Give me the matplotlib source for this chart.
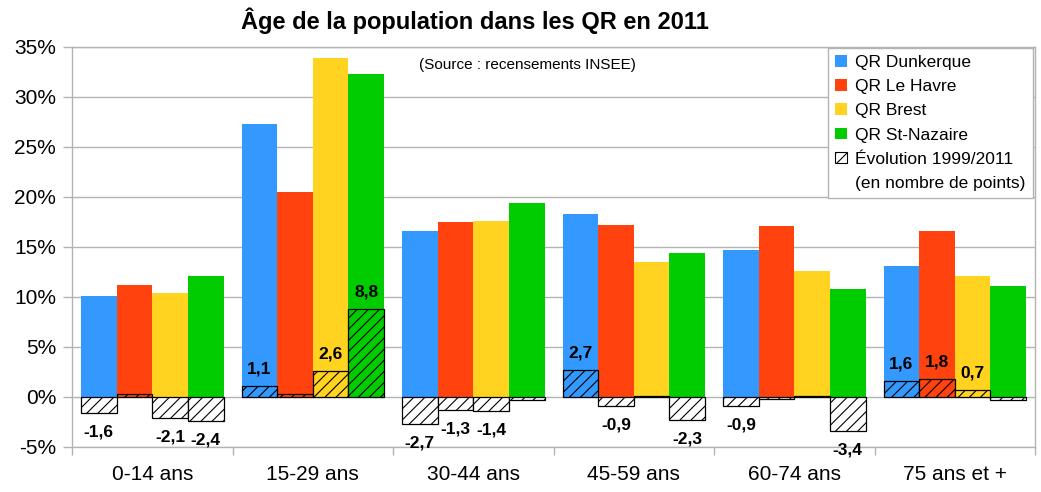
import matplotlib
matplotlib.use("Agg")
import matplotlib.pyplot as plt
import matplotlib.ticker as ticker
from matplotlib.patches import Patch
import numpy as np

plt.rcParams['font.family'] = ['Liberation Sans', 'DejaVu Sans']
plt.rcParams['hatch.linewidth'] = 0.8

categories = ['0-14 ans', '15-29 ans', '30-44 ans', '45-59 ans', '60-74 ans', '75 ans et +']
series = ['QR Dunkerque', 'QR Le Havre', 'QR Brest', 'QR St-Nazaire']
colors = ['#3399ff', '#ff420e', '#ffd320', '#00cc00']

# part de chaque tranche d'âge en 2011 (%)
dunkerque = [10.1, 27.3, 16.6, 18.3, 14.7, 13.1]
le_havre = [11.2, 20.5, 17.5, 17.2, 17.1, 16.6]
brest = [10.4, 33.9, 17.6, 13.5, 12.6, 12.1]
st_nazaire = [12.1, 32.3, 19.4, 14.4, 10.8, 11.1]

# évolution 1999/2011 (points)
evo_dunkerque = [-1.6, 1.1, -2.7, 2.7, -0.9, 1.6]
evo_le_havre = [0.3, 0.3, -1.3, -0.9, -0.2, 1.8]
evo_brest = [-2.1, 2.6, -1.4, 0.1, 0.1, 0.7]
evo_st_nazaire = [-2.4, 8.8, -0.3, -2.3, -3.4, -0.3]

values = [dunkerque, le_havre, brest, st_nazaire]
evolutions = [evo_dunkerque, evo_le_havre, evo_brest, evo_st_nazaire]

fig = plt.figure(figsize=(10.41, 4.92), dpi=100)
ax = fig.add_axes([0.0692, 0.0915, 0.9251, 0.813])

x = np.arange(len(categories))
width = 0.222
grey = '#b3b3b3'

for k in range(4):
    pos = x + (k - 1.5) * width
    ax.bar(pos, values[k], width, color=colors[k], zorder=2)
    face = [colors[k] if v > 0 else 'white' for v in evolutions[k]]
    ax.bar(pos, evolutions[k], width, color=face, edgecolor='black',
           linewidth=0.9, hatch='///', zorder=3)
    for p, v in zip(pos, evolutions[k]):
        if abs(v) < 0.5:
            continue
        txt = f'{v:.1f}'.replace('.', ',')
        off = 12 if v > 0 else -14
        ax.annotate(txt, (p, v), xytext=(0, off), textcoords='offset points',
                    ha='center', va='center', fontsize=12.5, fontweight='bold', zorder=4)

ax.set_xlim(-0.5, 5.5)
ax.set_ylim(-5, 35)
ax.yaxis.set_major_locator(ticker.MultipleLocator(5))
ax.yaxis.set_major_formatter(ticker.FuncFormatter(lambda v, p: f'{v:.0f}%'))
ax.set_xticks(x)
ax.set_xticklabels(categories)
ax.set_xticks(np.arange(-0.5, 6, 1), minor=True)
ax.tick_params(axis='x', which='major', length=0, pad=13, labelsize=15)
ax.tick_params(axis='x', which='minor', length=6, color=grey, width=1)
ax.tick_params(axis='y', length=6.5, color=grey, width=1, pad=5, labelsize=15)

ax.grid(axis='y', color=grey, linewidth=1)
ax.set_axisbelow(True)
for s in ax.spines.values():
    s.set_color(grey)
    s.set_linewidth(1)

fig.suptitle('Âge de la population dans les QR en 2011', x=0.456, y=0.985,
             fontsize=17, fontweight='bold')
ax.text(0.4725, 0.955, '(Source : recensements INSEE)', transform=ax.transAxes,
        ha='center', va='center', fontsize=11)

handles = [Patch(facecolor=c) for c in colors]
handles.append(Patch(facecolor='white', edgecolor='black', hatch='///', linewidth=0.8))
handles.append(Patch(facecolor='none', edgecolor='none'))
labels = series + ['Évolution 1999/2011', '(en nombre de points)']
leg = ax.legend(handles, labels, loc='upper right', bbox_to_anchor=(0.9975, 0.9975),
                fontsize=12.5, frameon=True, fancybox=False, framealpha=1,
                edgecolor=grey, handlelength=0.65, handleheight=0.65,
                handletextpad=0.5, labelspacing=0.53, borderpad=0.4, borderaxespad=0)
leg.get_frame().set_linewidth(1)

plt.savefig('out.png', dpi=100)
